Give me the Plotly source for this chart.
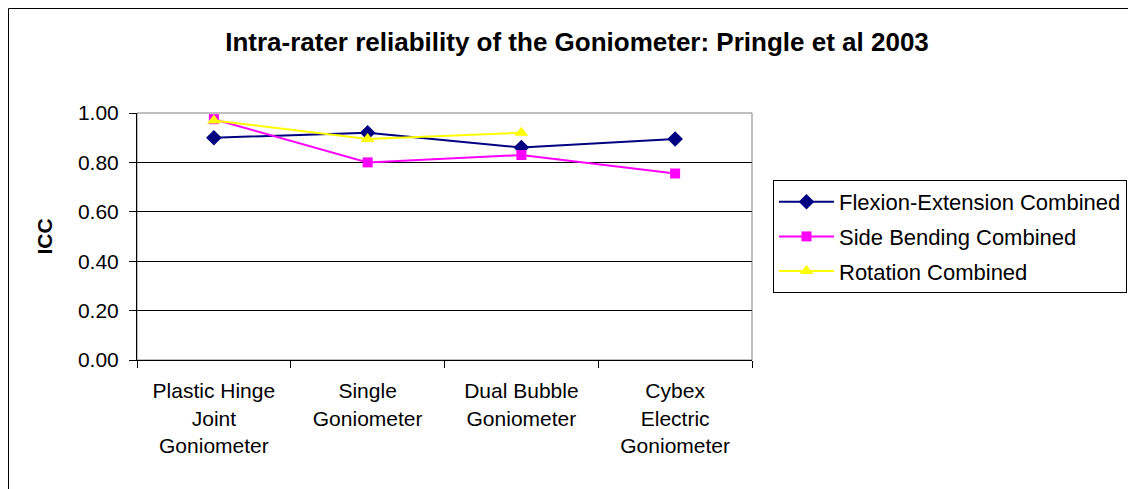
import plotly.graph_objects as go

categories = ["Plastic Hinge<br>Joint<br>Goniometer", "Single<br>Goniometer",
              "Dual Bubble<br>Goniometer", "Cybex<br>Electric<br>Goniometer"]
flexion = [0.90, 0.92, 0.86, 0.895]
side_bending = [0.975, 0.80, 0.83, 0.755]
rotation = [0.97, 0.895, 0.92, None]

FONT = "Arial, Liberation Sans, sans-serif"

fig = go.Figure()
fig.add_trace(go.Scatter(x=categories, y=flexion, name="Flexion-Extension Combined",
                         mode="lines+markers", legendgroup="a",
                         line=dict(color="#000080", width=2),
                         marker=dict(symbol="diamond", size=12, color="#000080")))
fig.add_trace(go.Scatter(x=categories, y=side_bending, name="Side Bending Combined",
                         mode="lines+markers", legendgroup="b",
                         line=dict(color="#FF00FF", width=2),
                         marker=dict(symbol="square", size=10, color="#FF00FF")))
fig.add_trace(go.Scatter(x=categories, y=rotation, name="Rotation Combined",
                         mode="lines+markers", legendgroup="c",
                         line=dict(color="#FFFF00", width=2),
                         marker=dict(symbol="triangle-up", size=12, color="#FFFF00")))

# page body has an 8px margin: figure coordinates = window coordinates - 8
OFF = 8
W, H = 1136, 489
L, T = 137 - OFF, 113 - OFF
R = W - (752 - OFF)
B = H - (360 - OFF)
pw, ph = W - L - R, H - T - B

fig.update_layout(
    width=W, height=H,
    margin=dict(l=L, r=R, t=T, b=B, autoexpand=False),
    paper_bgcolor="white", plot_bgcolor="white",
    font=dict(family=FONT, size=21, color="black"),
    title=dict(text="<b>Intra-rater reliability of the Goniometer: Pringle et al 2003</b>",
               font=dict(size=26, family=FONT, color="black"),
               x=(577 - OFF) / W, xanchor="center", xref="container",
               y=1 - (42 - OFF) / H, yanchor="middle", yref="container"),
    showlegend=True,
    legend=dict(x=(773 - OFF - L) / pw, xanchor="left",
                y=(H - B - (180 - OFF)) / ph, yanchor="top",
                bordercolor="black", borderwidth=1, bgcolor="white",
                font=dict(size=22, family=FONT, color="black"),
                traceorder="grouped", tracegroupgap=3, itemwidth=55),
    xaxis=dict(type="category", showgrid=False, showline=True, linecolor="black", linewidth=1,
               ticks="outside", tickson="boundaries", ticklen=7, tickcolor="black",
               tickfont=dict(size=21, family=FONT), ticklabelstandoff=12,
               range=[-0.5, 3.5]),
    yaxis=dict(range=[0, 1.0], dtick=0.2, tickformat=".2f", showgrid=True,
               gridcolor="black", gridwidth=1, showline=True, linecolor="black", linewidth=1,
               ticks="outside", ticklen=7, tickcolor="black", zeroline=False,
               tickfont=dict(size=21, family=FONT), ticklabelstandoff=6,
               title=dict(text="<b>ICC</b>", font=dict(size=21, family=FONT), standoff=19)),
)

# plot area gray border
fig.add_shape(type="rect", xref="paper", yref="paper", x0=0, y0=0, x1=1, y1=1,
              line=dict(color="#808080", width=1), layer="below")
# outer chart border
fig.add_shape(type="rect", xref="paper", yref="paper",
              x0=(0.5 - L) / pw, x1=(W + 5 - L) / pw,
              y0=(H - B - (H + 5)) / ph, y1=(H - B - 0.5) / ph,
              line=dict(color="black", width=1))

fig.write_html("out.html")
